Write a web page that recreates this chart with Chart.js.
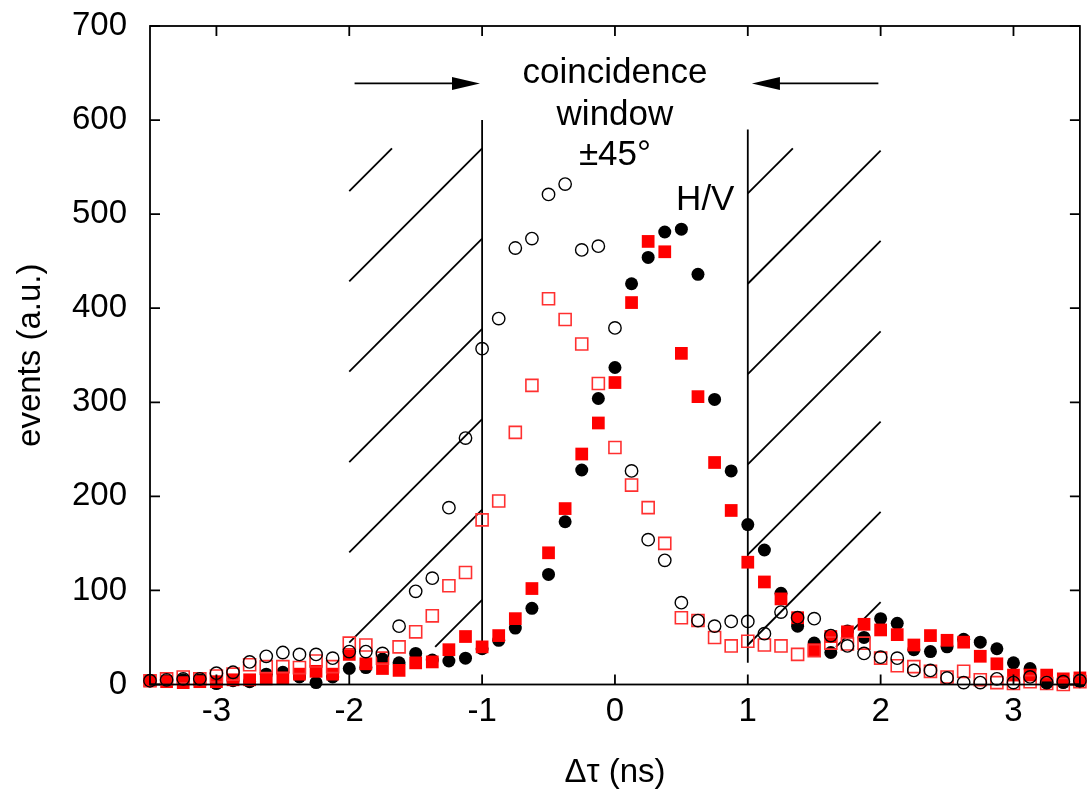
<!DOCTYPE html>
<html>
<head>
<meta charset="utf-8">
<script src="https://cdn.jsdelivr.net/npm/chart.js@4.4.1/dist/chart.umd.min.js"></script>
<style>
  html, body { margin: 0; padding: 0; background: #fff; }
  canvas { display: block; }
</style>
</head>
<body>
<canvas id="grafico" width="1090" height="789"></canvas>
<script>
// atraso (ns)
const tempos = [-3.5, -3.375, -3.25, -3.125, -3, -2.875, -2.75, -2.625, -2.5, -2.375,
  -2.25, -2.125, -2, -1.875, -1.75, -1.625, -1.5, -1.375, -1.25, -1.125,
  -1, -0.875, -0.75, -0.625, -0.5, -0.375, -0.25, -0.125, 0, 0.125,
  0.25, 0.375, 0.5, 0.625, 0.75, 0.875, 1, 1.125, 1.25, 1.375,
  1.5, 1.625, 1.75, 1.875, 2, 2.125, 2.25, 2.375, 2.5, 2.625,
  2.75, 2.875, 3, 3.125, 3.25, 3.375, 3.5];

const pretoCheio = [4, 4, 5, 5, 1, 4, 3, 11, 13, 8, 2, 8, 17, 18, 27, 23, 33, 26, 25, 28,
  38, 47, 60, 81, 117, 173, 228, 304, 337, 426, 454, 481, 484, 436, 303, 227, 170, 143, 97, 62,
  44, 34, 57, 50, 70, 65, 37, 35, 40, 48, 45, 38, 23, 17, 2, 2, 3];

const vermelhoCheio = [4, 3, 2, 3, 3, 5, 5, 6, 7, 11, 14, 11, 32, 22, 17, 15, 23, 24, 37, 51,
  40, 52, 70, 102, 140, 187, 245, 278, 321, 406, 471, 460, 352, 306, 236, 185, 130, 109, 91, 71,
  37, 51, 56, 64, 58, 53, 42, 52, 47, 45, 30, 22, 10, 10, 10, 6, 7];

const pretoAberto = [4, 5, 6, 6, 12, 13, 24, 30, 34, 32, 32, 28, 35, 35, 33, 62, 99, 113, 188, 262,
  357, 389, 464, 474, 521, 532, 462, 466, 379, 227, 154, 132, 87, 68, 62, 67, 67, 54, 77, 71,
  70, 52, 41, 33, 29, 28, 15, 15, 7, 2, 2, 6, 2, 8, 2, 3, 4];

const vermelhoAberto = [4, 6, 8, 6, 9, 11, 21, 19, 19, 18, 25, 19, 44, 42, 28, 40, 56, 73, 105, 119,
  175, 195, 268, 318, 410, 388, 362, 320, 252, 212, 188, 150, 71, 68, 50, 41, 46, 42, 41, 32,
  36, 44, 43, 44, 28, 20, 19, 14, 8, 14, 5, 2, 1, 3, 1, 0, 3];

const ticksX = [-3, -2, -1, 0, 1, 2, 3];
const ticksY = [0, 100, 200, 300, 400, 500, 600, 700];

// anotacoes (coordenadas dos dados)
const linhaEsq = [40, 600];
const linhaDir = [23, 590];
const faixaHachura = [40, 570];
const inclinacao = 141.5;
const hachuraEsq = [-6, 90, 186, 282, 378, 474, 570, 666];
const hachuraDir = [-54, 42, 138, 234, 330, 426, 522];
const setaY = 639;
const setaEsq = [-1.96, -1.016];
const setaDir = [1.983, 1.031];
const textos = [
  { t: "coincidence", x: 0, y: 639 },
  { t: "window", x: 0, y: 595 },
  { t: "±45°", x: 0, y: 552 },
  { t: "H/V", x: 0.68, y: 504 }
];

const fonte = "'Liberation Sans', Arial, sans-serif";

function pontos(valores) {
  return tempos.map((t, i) => ({ x: t, y: valores[i] }));
}

const anotacoes = {
  id: "anotacoes",
  beforeDatasetsDraw(chart) {
    const ctx = chart.ctx;
    const sx = chart.scales.x, sy = chart.scales.y;
    const px = v => sx.getPixelForValue(v);
    const py = v => sy.getPixelForValue(v);
    ctx.save();
    ctx.strokeStyle = "#000";
    ctx.lineWidth = 1.8;

    // hachuras fora da janela
    function hachura(xa, xb, x0, lista) {
      lista.forEach(c => {
        const xlo = x0 + (faixaHachura[0] - c) / inclinacao;
        const xhi = x0 + (faixaHachura[1] - c) / inclinacao;
        const x1 = Math.max(xa, xlo), x2 = Math.min(xb, xhi);
        if (x1 >= x2) return;
        ctx.beginPath();
        ctx.moveTo(px(x1), py(c + inclinacao * (x1 - x0)));
        ctx.lineTo(px(x2), py(c + inclinacao * (x2 - x0)));
        ctx.stroke();
      });
    }
    hachura(-2, -1, -1, hachuraEsq);
    hachura(1, 2, 1, hachuraDir);

    // limites da janela
    ctx.beginPath();
    ctx.moveTo(px(-1), py(linhaEsq[0]));
    ctx.lineTo(px(-1), py(linhaEsq[1]));
    ctx.moveTo(px(1), py(linhaDir[0]));
    ctx.lineTo(px(1), py(linhaDir[1]));
    ctx.stroke();

    // setas
    function seta(de, ate) {
      const y = py(setaY);
      const x0 = px(de), x1 = px(ate);
      const dir = Math.sign(x1 - x0);
      ctx.beginPath();
      ctx.moveTo(x0, y);
      ctx.lineTo(x1 - dir * 20, y);
      ctx.stroke();
      ctx.beginPath();
      ctx.moveTo(x1, y);
      ctx.lineTo(x1 - dir * 28, y - 6.5);
      ctx.lineTo(x1 - dir * 28, y + 6.5);
      ctx.closePath();
      ctx.fillStyle = "#000";
      ctx.fill();
    }
    seta(setaEsq[0], setaEsq[1]);
    seta(setaDir[0], setaDir[1]);

    ctx.fillStyle = "#000";
    ctx.font = "35px " + fonte;
    ctx.textAlign = "center";
    ctx.textBaseline = "alphabetic";
    textos.forEach(o => ctx.fillText(o.t, px(o.x), py(o.y)));
    ctx.restore();
  },
  afterDraw(chart) {
    const ctx = chart.ctx;
    const a = chart.chartArea;
    const sx = chart.scales.x, sy = chart.scales.y;
    ctx.save();
    ctx.strokeStyle = "#000";
    ctx.lineWidth = 1.8;
    ctx.strokeRect(a.left, a.top, a.right - a.left, a.bottom - a.top);
    ctx.beginPath();
    ticksX.forEach(v => {
      const x = sx.getPixelForValue(v);
      ctx.moveTo(x, a.bottom); ctx.lineTo(x, a.bottom - 10);
      ctx.moveTo(x, a.top); ctx.lineTo(x, a.top + 10);
    });
    ticksY.forEach(v => {
      const y = sy.getPixelForValue(v);
      ctx.moveTo(a.left, y); ctx.lineTo(a.left + 10, y);
      ctx.moveTo(a.right, y); ctx.lineTo(a.right - 10, y);
    });
    ctx.stroke();
    ctx.restore();
  }
};

new Chart(document.getElementById("grafico"), {
  type: "scatter",
  data: {
    datasets: [
      {
        label: "±45° (círculos)",
        data: pontos(pretoAberto),
        pointStyle: "circle",
        pointRadius: 6.2,
        pointBorderWidth: 1.4,
        borderColor: "#000",
        backgroundColor: "rgba(0,0,0,0)",
        clip: false
      },
      {
        label: "±45° (quadrados)",
        data: pontos(vermelhoAberto),
        pointStyle: "rect",
        pointRadius: 8.5,
        pointBorderWidth: 1.6,
        borderColor: "#ff3030",
        backgroundColor: "rgba(0,0,0,0)",
        clip: false
      },
      {
        label: "H/V (quadrados)",
        data: pontos(vermelhoCheio),
        pointStyle: "rect",
        pointRadius: 9,
        pointBorderWidth: 0,
        borderColor: "#ff0000",
        backgroundColor: "#ff0000",
        clip: false
      },
      {
        label: "H/V (círculos)",
        data: pontos(pretoCheio),
        pointStyle: "circle",
        pointRadius: 6.5,
        pointBorderWidth: 0,
        borderColor: "#000",
        backgroundColor: "#000",
        clip: false
      }
    ]
  },
  options: {
    responsive: false,
    animation: false,
    devicePixelRatio: 1,
    layout: { padding: { top: 26, right: 8, left: 0, bottom: 0 } },
    plugins: {
      legend: { display: false },
      tooltip: { enabled: false }
    },
    scales: {
      x: {
        type: "linear",
        min: -3.5,
        max: 3.5,
        afterBuildTicks: s => { s.ticks = ticksX.map(v => ({ value: v })); },
        afterFit: s => {
          s.height = 104.5;
          s.paddingLeft = 0; s.paddingRight = 0;
        },
        grid: { display: false, drawTicks: false },
        border: { display: false },
        ticks: { color: "#000", padding: 8, font: { family: fonte, size: 33 } },
        title: {
          display: true,
          text: "Δτ (ns)",
          color: "#000",
          padding: { top: 0, bottom: 0 },
          font: { family: fonte, size: 33, lineHeight: 1 }
        }
      },
      y: {
        type: "linear",
        min: 0,
        max: 700,
        afterBuildTicks: s => { s.ticks = ticksY.map(v => ({ value: v })); },
        afterFit: s => {
          s.width = 150;
          s.paddingTop = 0; s.paddingBottom = 0;
        },
        grid: { display: false, drawTicks: false },
        border: { display: false },
        ticks: { color: "#000", padding: 23, font: { family: fonte, size: 33 } },
        title: {
          display: true,
          text: "events (a.u.)",
          color: "#000",
          padding: { top: 14, bottom: 0 },
          font: { family: fonte, size: 33, lineHeight: 1 }
        }
      }
    }
  },
  plugins: [anotacoes]
});
</script>
</body>
</html>
